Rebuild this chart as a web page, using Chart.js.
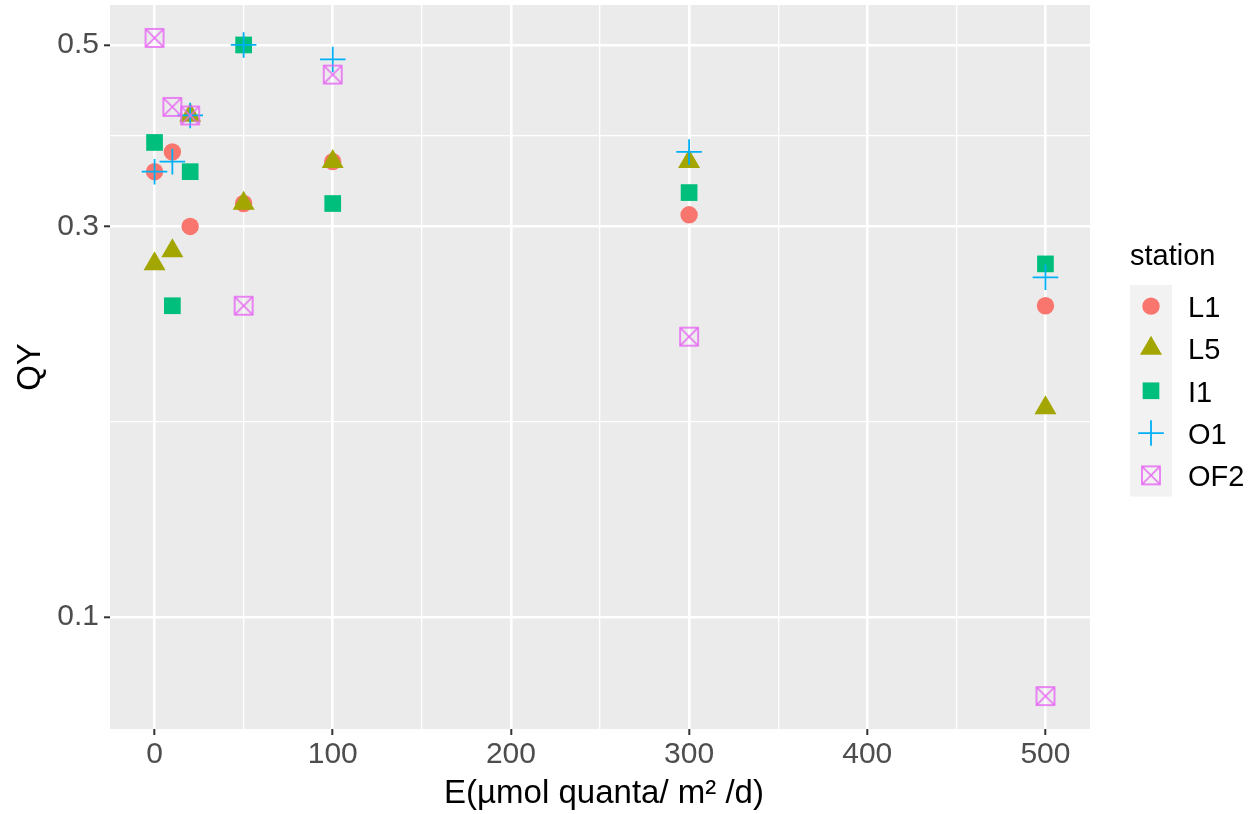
<!DOCTYPE html>
<html lang="en">
<head>
<meta charset="UTF-8">
<title>QY vs E by station</title>
<script src="https://cdn.jsdelivr.net/npm/chart.js"></script>
<style>
  body { margin: 0; background: #ffffff; }
  #wrap { width: 1258px; height: 814px; }
</style>
</head>
<body>
<div id="wrap"><canvas id="qyChart" width="1258" height="814"></canvas></div>
<script>
// light levels shared by every station
const lightLevels = [0, 10, 20, 50, 100, 300, 500];

// quantum yield per station, same order as lightLevels
const qyL1  = [0.35, 0.37, 0.30, 0.32, 0.36, 0.31, 0.24];
const qyL5  = [0.27, 0.28, 0.41, 0.32, 0.36, 0.36, 0.18];
const qyI1  = [0.38, 0.24, 0.35, 0.50, 0.32, 0.33, 0.27];
const qyO1  = [0.35, 0.36, 0.41, 0.50, 0.48, 0.37, 0.26];
const qyOF2 = [0.51, 0.42, 0.41, 0.24, 0.46, 0.22, 0.08];

const stationNames = ['L1', 'L5', 'I1', 'O1', 'OF2'];
const stationValues = [qyL1, qyL5, qyI1, qyO1, qyOF2];

// labelled axis breaks
const xBreaks = [0, 100, 200, 300, 400, 500];
const yBreaks = [0.1, 0.3, 0.5];

const FONT = "'Liberation Sans', Arial, sans-serif";

// open square with an X through it (R pch 7)
function squareCross(color) {
    const c = document.createElement('canvas');
    c.width = 22;
    c.height = 22;
    const g = c.getContext('2d');
    g.strokeStyle = color;
    g.lineWidth = 1.6;
    g.strokeRect(2, 2, 18, 18);
    g.beginPath();
    g.moveTo(2, 2); g.lineTo(20, 20);
    g.moveTo(20, 2); g.lineTo(2, 20);
    g.stroke();
    return c;
}

const markers = [
    { color: '#F8766D', pointStyle: 'circle',   radius: 8.7,  borderWidth: 0 },
    { color: '#A3A500', pointStyle: 'triangle', radius: 12.7, borderWidth: 0 },
    { color: '#00BF7D', pointStyle: 'rect',     radius: 11.8, borderWidth: 0 },
    { color: '#00B0F6', pointStyle: 'cross',    radius: 12.8, borderWidth: 1.8 },
    { color: '#E76BF3', pointStyle: squareCross('#E76BF3'), radius: 10, borderWidth: 0 }
];

// ggplot-style limits: 5% expansion (log space for y)
const allY = stationValues.flat();
const xLo = Math.min(...lightLevels), xHi = Math.max(...lightLevels);
const xPad = (xHi - xLo) * 0.05;
const xMin = xLo - xPad, xMax = xHi + xPad;
const lyLo = Math.log10(Math.min(...allY)), lyHi = Math.log10(Math.max(...allY));
const lyPad = (lyHi - lyLo) * 0.05;
const yMin = Math.pow(10, lyLo - lyPad), yMax = Math.pow(10, lyHi + lyPad);

// minor grid lines halfway between breaks
const xGrid = [];
xBreaks.forEach((v, i) => {
    xGrid.push(v);
    if (i < xBreaks.length - 1) xGrid.push((v + xBreaks[i + 1]) / 2);
});
const yGrid = [];
yBreaks.forEach((v, i) => {
    yGrid.push(v);
    if (i < yBreaks.length - 1) yGrid.push(Math.sqrt(v * yBreaks[i + 1]));
});

const isXMajor = c => c.tick && xBreaks.includes(c.tick.value);
const isYMajor = c => c.tick && yBreaks.includes(c.tick.value);

// fixed axis sizes, no extra room for overhanging labels
function fixWidth(w) {
    return s => { s.width = w; s.paddingTop = 0; s.paddingBottom = 0; };
}
function fixHeight(h) {
    return s => { s.height = h; s.paddingLeft = 0; s.paddingRight = 0; };
}

const datasets = stationNames.map((name, i) => ({
    label: name,
    data: lightLevels.map((x, j) => ({ x: x, y: stationValues[i][j] })),
    pointStyle: markers[i].pointStyle,
    pointRadius: markers[i].radius,
    pointBackgroundColor: markers[i].color,
    pointBorderColor: markers[i].color,
    pointBorderWidth: markers[i].borderWidth,
    order: stationNames.length - i   // first station underneath
}));

const panelBackground = {
    id: 'panelBackground',
    beforeDraw(chart) {
        const { ctx, chartArea: a } = chart;
        ctx.save();
        ctx.fillStyle = '#EBEBEB';
        ctx.fillRect(a.left, a.top, a.right - a.left, a.bottom - a.top);
        ctx.restore();
    }
};

const axisTitles = {
    id: 'axisTitles',
    afterDraw(chart) {
        const { ctx, chartArea: a } = chart;
        ctx.save();
        ctx.fillStyle = '#000000';
        ctx.font = '33px ' + FONT;
        ctx.textAlign = 'center';
        ctx.textBaseline = 'alphabetic';
        ctx.fillText('E(µmol quanta/ m² /d)', (a.left + a.right) / 2 + 4, 803);
        ctx.translate(40, (a.top + a.bottom) / 2);
        ctx.rotate(-Math.PI / 2);
        ctx.fillText('QY', 0, 0);
        ctx.restore();
    }
};

const stationLegend = {
    id: 'stationLegend',
    afterDraw(chart) {
        const ctx = chart.ctx;
        const left = 1130, top = 285, keyW = 42, keyH = 42.3;
        ctx.save();
        ctx.fillStyle = '#000000';
        ctx.font = '29px ' + FONT;
        ctx.textAlign = 'left';
        ctx.textBaseline = 'alphabetic';
        ctx.fillText('station', left, 264.5);

        ctx.fillStyle = '#F2F2F2';
        ctx.fillRect(left, top, keyW, keyH * stationNames.length);

        stationNames.forEach((name, i) => {
            const cy = top + keyH * (i + 0.5);
            const m = markers[i];
            ctx.fillStyle = m.color;
            ctx.strokeStyle = m.color;
            ctx.lineWidth = m.borderWidth;
            Chart.helpers.drawPoint(ctx, {
                pointStyle: m.pointStyle, radius: m.radius,
                borderWidth: m.borderWidth, rotation: 0
            }, left + keyW / 2, cy);
            ctx.fillStyle = '#000000';
            ctx.font = '29px ' + FONT;
            ctx.fillText(name, 1188, cy + 11);
        });
        ctx.restore();
    }
};

new Chart(document.getElementById('qyChart'), {
    type: 'scatter',
    data: { datasets: datasets },
    options: {
        responsive: false,
        animation: false,
        events: [],
        layout: {
            autoPadding: false,
            padding: { top: 5, right: 168, bottom: 0, left: 0 }
        },
        plugins: {
            legend: { display: false },
            tooltip: { enabled: false }
        },
        scales: {
            x: {
                type: 'linear',
                min: xMin,
                max: xMax,
                afterBuildTicks: s => { s.ticks = xGrid.map(v => ({ value: v })); },
                afterFit: fixHeight(85),
                border: { display: false },
                grid: {
                    color: '#FFFFFF',
                    lineWidth: c => isXMajor(c) ? 2.6 : 1.3,
                    tickLength: 6,
                    tickWidth: 2,
                    tickColor: c => isXMajor(c) ? '#333333' : 'rgba(0,0,0,0)'
                },
                ticks: {
                    color: '#4D4D4D',
                    font: { family: FONT, size: 30 },
                    padding: 2,
                    maxRotation: 0,
                    autoSkip: false,
                    callback: v => xBreaks.includes(v) ? String(v) : ''
                }
            },
            y: {
                type: 'logarithmic',
                min: yMin,
                max: yMax,
                afterBuildTicks: s => { s.ticks = yGrid.map(v => ({ value: v })); },
                afterFit: fixWidth(110),
                border: { display: false },
                grid: {
                    color: '#FFFFFF',
                    lineWidth: c => isYMajor(c) ? 2.6 : 1.3,
                    tickLength: 6,
                    tickWidth: 2,
                    tickColor: c => isYMajor(c) ? '#333333' : 'rgba(0,0,0,0)'
                },
                ticks: {
                    color: '#4D4D4D',
                    font: { family: FONT, size: 30 },
                    padding: 5,
                    autoSkip: false,
                    callback: v => yBreaks.includes(v) ? String(v) : ''
                }
            }
        }
    },
    plugins: [panelBackground, axisTitles, stationLegend]
});
</script>
</body>
</html>
